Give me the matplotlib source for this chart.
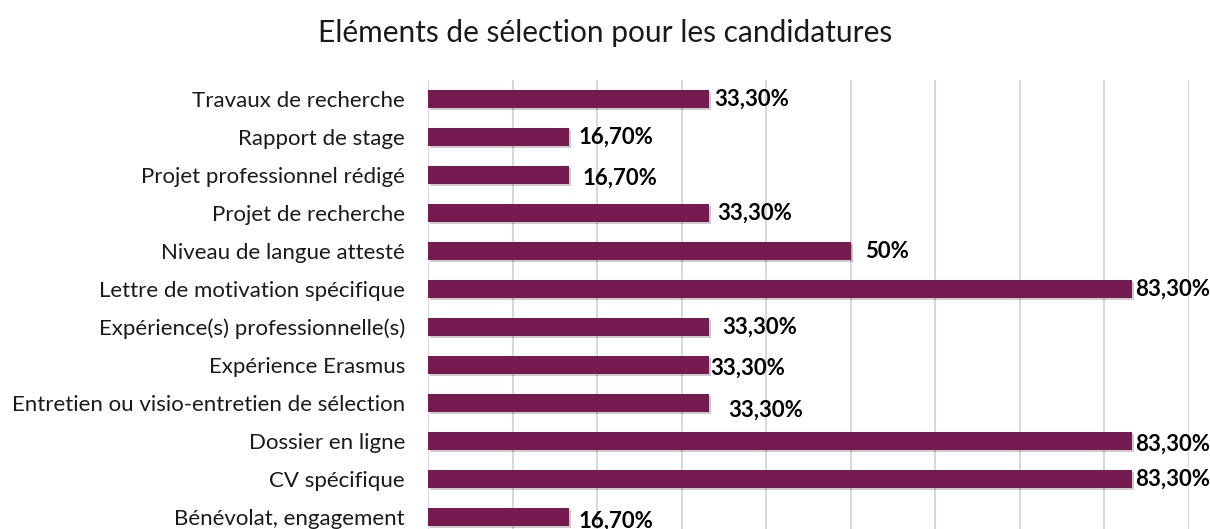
import matplotlib
matplotlib.use('Agg')
import matplotlib.pyplot as plt
import matplotlib.patheffects as pe

plt.rcParams['font.family'] = ['Lato', 'DejaVu Sans']

categories = ['Travaux de recherche', 'Rapport de stage', 'Projet professionnel rédigé',
              'Projet de recherche', 'Niveau de langue attesté', 'Lettre de motivation spécifique',
              'Expérience(s) professionnelle(s)', 'Expérience Erasmus',
              'Entretien ou visio-entretien de sélection', 'Dossier en ligne', 'CV spécifique',
              'Bénévolat, engagement']
values = [0.333, 0.167, 0.167, 0.333, 0.50, 0.833, 0.333, 0.333, 0.333, 0.833, 0.833, 0.167]
labels = ['33,30%', '16,70%', '16,70%', '33,30%', '50%', '83,30%', '33,30%', '33,30%',
          '33,30%', '83,30%', '83,30%', '16,70%']

# label nudges (points right, points down) to mimic the original placement
nudge_x = [3.5, 6.5, 10, 5.5, 10.5, 2, 9, 0.5, 13.5, 2, 2, 6.5]
nudge_y = [0, 0, 2, 0, 0, 0, 0, 2.5, 5, 2, 0, 3]

color = '#761A52'

fig = plt.figure(figsize=(12.1, 5.29), dpi=100)
ax = fig.add_axes([428 / 1210, (529 - 536) / 529, (1188.5 - 428) / 1210, (536 - 80) / 529])

y = list(range(len(categories)))[::-1]
bars = ax.barh(y, values, height=0.47, color=color, zorder=3)
for b in bars:
    b.set_path_effects([pe.SimplePatchShadow(offset=(1.5, -1.5), shadow_rgbFace='#000000', alpha=0.2),
                        pe.Normal()])

for yi, v, lab, dx, dy in zip(y, values, labels, nudge_x, nudge_y):
    ax.annotate(lab, (v, yi), xytext=(dx, -dy), textcoords='offset points',
                ha='left', va='center', fontsize=16, fontweight='bold', color='#000000')

ax.set_xlim(0, 0.9)
ax.set_ylim(-0.5, len(categories) - 0.5)
ax.set_xticks([i / 10 for i in range(10)])
ax.set_xticklabels([])
ax.set_yticks(y)
ax.set_yticklabels(categories, fontsize=16, color='#1a1a1a')
ax.tick_params(axis='both', length=0, pad=16.5)
ax.grid(axis='x', color='#D9D9D9', linewidth=1.5, zorder=0)
for s in ax.spines.values():
    s.set_visible(False)

fig.text(605 / 1210, 1 - 33 / 529, 'Eléments de sélection pour les candidatures',
         ha='center', va='center', fontsize=21.5, color='#1a1a1a')

fig.savefig('out.png', dpi=100)
